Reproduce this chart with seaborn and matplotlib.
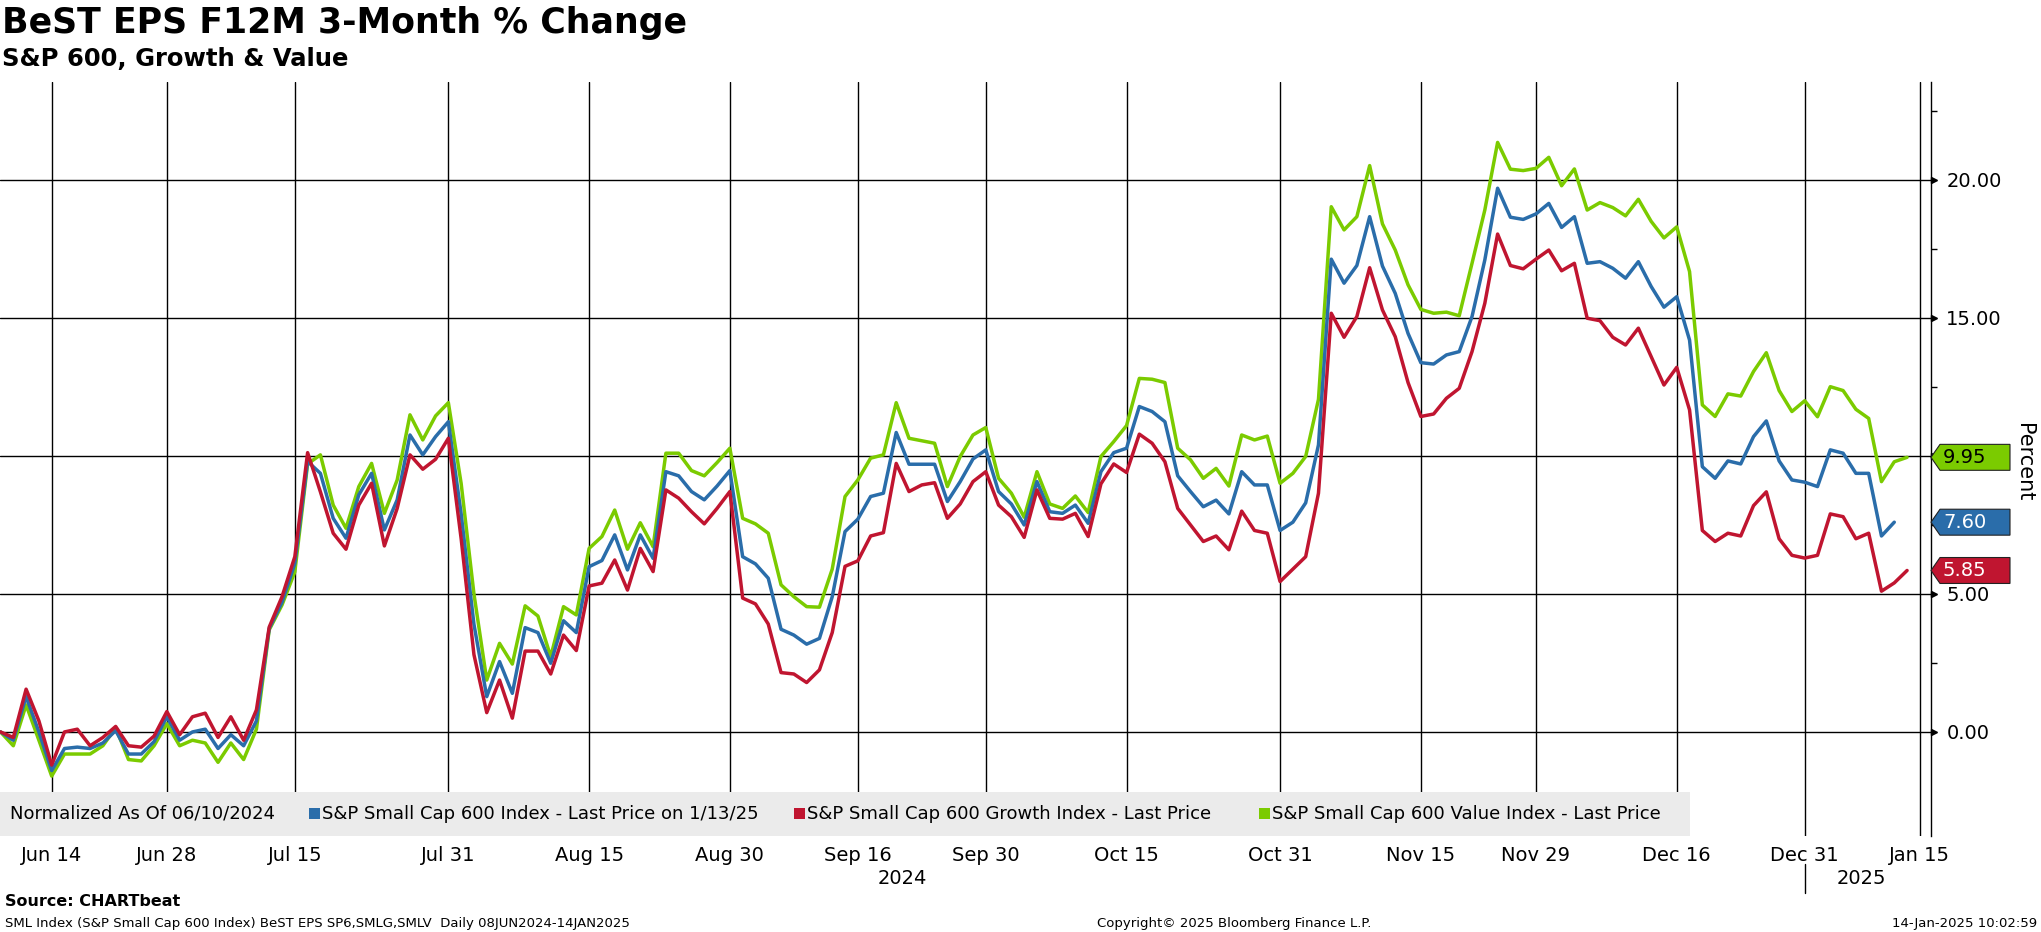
import numpy as np
import pandas as pd
import seaborn as sns
import matplotlib
matplotlib.use("Agg")
import matplotlib.pyplot as plt
from matplotlib import transforms
from matplotlib.patches import Polygon, Rectangle
from matplotlib.lines import Line2D

# trading days (NYSE holidays removed)
holidays = ["2024-06-19", "2024-07-04", "2024-09-02", "2024-11-28",
            "2024-12-25", "2025-01-01", "2025-01-09"]
dates = pd.bdate_range("2024-06-10", "2025-01-14").drop(pd.to_datetime(holidays))

# S&P Small Cap 600 Value (green)
value_idx = [
    0.0, -0.5, 0.98, -0.3, -1.6, -0.8, -0.8, -0.8, -0.5, 0.15,
    -1.0, -1.05, -0.5, 0.3, -0.5, -0.3, -0.4, -1.1, -0.4, -1.0,
    0.1, 3.7, 4.6, 5.8, 9.71, 10.04, 8.22, 7.38, 8.89, 9.73,
    7.92, 9.13, 11.49, 10.58, 11.45, 11.93, 9.0, 5.0, 1.88, 3.21,
    2.46, 4.57, 4.20, 2.73, 4.54, 4.24, 6.65, 7.08, 8.04, 6.62,
    7.58, 6.71, 10.1, 10.1, 9.47, 9.28, 9.76, 10.28, 7.74, 7.54,
    7.2, 5.33, 4.9, 4.54, 4.52, 5.9, 8.53, 9.13, 9.92, 10.04,
    11.93, 10.64, 10.55, 10.46, 8.89, 9.98, 10.76, 11.03, 9.19, 8.65,
    7.78, 9.43, 8.26, 8.1, 8.55, 7.95, 9.98, 10.52, 11.1, 12.81,
    12.78, 12.66, 10.28, 9.86, 9.19, 9.55, 8.91, 10.76, 10.58, 10.72,
    9.01, 9.37, 9.98, 12.05, 19.03, 18.19, 18.67, 20.52, 18.41, 17.46,
    16.20, 15.31, 15.17, 15.21, 15.08, 16.98, 18.91, 21.36, 20.39, 20.34,
    20.42, 20.82, 19.79, 20.40, 18.91, 19.18, 19.0, 18.7, 19.3, 18.5,
    17.9, 18.3, 16.68, 11.85, 11.43, 12.25, 12.17, 13.06, 13.74, 12.37,
    11.61, 12.0, 11.42, 12.51, 12.37, 11.69, 11.36, 9.07, 9.79, 9.95,
]

# S&P Small Cap 600 (blue), last point 1/13/25
sml_idx = [
    0.0, -0.3, 1.28, 0.0, -1.4, -0.6, -0.55, -0.6, -0.4, 0.05,
    -0.8, -0.8, -0.35, 0.55, -0.3, 0.0, 0.1, -0.6, -0.1, -0.5,
    0.4, 3.75, 4.7, 6.1, 9.8, 9.37, 7.74, 7.02, 8.59, 9.37,
    7.32, 8.41, 10.76, 10.04, 10.7, 11.24, 7.9, 3.9, 1.28, 2.55,
    1.40, 3.78, 3.60, 2.49, 4.03, 3.60, 5.99, 6.21, 7.14, 5.87,
    7.14, 6.29, 9.43, 9.28, 8.71, 8.41, 8.91, 9.47, 6.35, 6.09,
    5.57, 3.72, 3.51, 3.18, 3.39, 4.9, 7.26, 7.71, 8.53, 8.65,
    10.85, 9.70, 9.70, 9.70, 8.35, 9.07, 9.89, 10.22, 8.71, 8.26,
    7.5, 9.07, 7.98, 7.92, 8.22, 7.56, 9.43, 10.12, 10.28, 11.79,
    11.61, 11.24, 9.28, 8.71, 8.16, 8.4, 7.9, 9.43, 8.95, 8.95,
    7.3, 7.6, 8.3, 10.40, 17.13, 16.26, 16.90, 18.67, 16.88, 15.89,
    14.44, 13.38, 13.33, 13.66, 13.78, 15.05, 17.10, 19.70, 18.65, 18.57,
    18.77, 19.15, 18.28, 18.67, 16.98, 17.04, 16.80, 16.44, 17.04, 16.14,
    15.39, 15.77, 14.20, 9.61, 9.19, 9.82, 9.71, 10.70, 11.27, 9.82,
    9.13, 9.05, 8.89, 10.22, 10.1, 9.37, 9.37, 7.1, 7.6,
]

# S&P Small Cap 600 Growth (red)
growth_idx = [
    0.0, -0.2, 1.55, 0.4, -1.2, 0.0, 0.1, -0.5, -0.2, 0.2,
    -0.5, -0.55, -0.15, 0.74, -0.1, 0.55, 0.68, -0.2, 0.55, -0.3,
    0.8, 3.8, 4.9, 6.35, 10.12, 8.7, 7.2, 6.62, 8.22, 9.01,
    6.74, 8.1, 10.04, 9.52, 9.88, 10.64, 7.0, 2.8, 0.70, 1.88,
    0.50, 2.93, 2.93, 2.10, 3.51, 2.95, 5.29, 5.39, 6.23, 5.14,
    6.65, 5.81, 8.77, 8.47, 7.98, 7.54, 8.10, 8.71, 4.85, 4.64,
    3.91, 2.15, 2.10, 1.79, 2.25, 3.60, 6.0, 6.2, 7.10, 7.22,
    9.73, 8.71, 8.95, 9.03, 7.74, 8.26, 9.07, 9.43, 8.22, 7.80,
    7.05, 8.77, 7.74, 7.71, 7.92, 7.08, 8.99, 9.71, 9.40, 10.79,
    10.46, 9.79, 8.10, 7.5, 6.9, 7.1, 6.6, 8.0, 7.3, 7.2,
    5.45, 5.9, 6.35, 8.65, 15.17, 14.30, 15.05, 16.82, 15.29, 14.32,
    12.66, 11.43, 11.52, 12.09, 12.45, 13.78, 15.53, 18.04, 16.90, 16.78,
    17.13, 17.46, 16.71, 16.98, 14.99, 14.90, 14.30, 14.02, 14.63, 13.60,
    12.57, 13.21, 11.67, 7.3, 6.9, 7.2, 7.1, 8.2, 8.7, 7.0,
    6.4, 6.3, 6.4, 7.9, 7.8, 7.0, 7.2, 5.1, 5.4, 5.85,
]

tick_dates = ["2024-06-14", "2024-06-28", "2024-07-15", "2024-07-31", "2024-08-15",
              "2024-08-30", "2024-09-16", "2024-09-30", "2024-10-15", "2024-10-31",
              "2024-11-15", "2024-11-29", "2024-12-16", "2024-12-31", "2025-01-15"]
tick_labels = ["Jun 14", "Jun 28", "Jul 15", "Jul 31", "Aug 15", "Aug 30", "Sep 16",
               "Sep 30", "Oct 15", "Oct 31", "Nov 15", "Nov 29", "Dec 16", "Dec 31", "Jan 15"]
y_ticks = [0, 5, 10, 15, 20]
y_ticklabels = ["0.00", "5.00", "", "15.00", "20.00"]

names = ["S&P Small Cap 600 Index - Last Price on 1/13/25",
         "S&P Small Cap 600 Growth Index - Last Price",
         "S&P Small Cap 600 Value Index - Last Price"]
colors = {names[0]: "#2A6DAA", names[1]: "#C01530", names[2]: "#7BCB00"}

W, H = 2041, 932


def fx(px):
    return px / W


def fy(py):
    return 1 - py / H


sns.set_style("white")
plt.rcParams["font.family"] = ["DejaVu Sans"]
plt.rcParams["text.color"] = "black"
plt.rcParams["xtick.color"] = "black"
plt.rcParams["ytick.color"] = "black"
plt.rcParams["axes.labelcolor"] = "black"

fig = plt.figure(figsize=(W / 100, H / 100), dpi=100)
ax_top, ax_bot, ax_right = 81.7, 836.0, 1931.0
ax = fig.add_axes([0, fy(ax_bot), fx(ax_right), (ax_bot - ax_top) / H])

frames = []
for name, vals in [(names[2], value_idx), (names[0], sml_idx), (names[1], growth_idx)]:
    frames.append(pd.DataFrame({"day": np.arange(len(vals)), "value": vals, "series": name}))
df = pd.concat(frames, ignore_index=True)

sns.lineplot(data=df, x="day", y="value", hue="series",
             hue_order=[names[2], names[0], names[1]], palette=colors,
             estimator=None, linewidth=2.5, legend=False, ax=ax, zorder=3)

tick_pos = [int(dates.searchsorted(pd.Timestamp(d))) for d in tick_dates]
for p in tick_pos:
    ax.axvline(p, color="black", lw=1.0, zorder=1)
for v in y_ticks:
    ax.axhline(v, color="black", lw=1.0, zorder=1)

ax.set_xlim(-0.04, 150.87)
ax.set_ylim(-3.77, 23.56)
ax.set_xlabel("")
ax.set_ylabel("")
for s in ["top", "left", "bottom"]:
    ax.spines[s].set_visible(False)
ax.spines["right"].set_color("black")
ax.spines["right"].set_linewidth(1.0)

ax.set_xticks(tick_pos)
ax.set_xticklabels(tick_labels, fontsize=14, color="black")
ax.tick_params(axis="x", length=0, pad=7)

ax.yaxis.tick_right()
ax.set_yticks(y_ticks)
ax.set_yticklabels(y_ticklabels, fontsize=14, color="black")
ax.set_yticks([2.5, 7.5, 12.5, 17.5, 22.5], minor=True)
ax.tick_params(axis="y", which="major", length=0, pad=11)
ax.tick_params(axis="y", which="minor", length=4, width=1, color="black", direction="out")

blend = transforms.blended_transform_factory(ax.transAxes, ax.transData)
ax.plot([1 + 3 / ax_right] * len(y_ticks), y_ticks, ls="none", marker=">", ms=4.5,
        color="black", transform=blend, clip_on=False)

# gray legend strip inside the plot
ax.add_patch(Rectangle((0, 0), 1690 / ax_right, (ax_bot - 791.5) / (ax_bot - ax_top),
                       transform=ax.transAxes, facecolor="#EBEBEB", edgecolor="none", zorder=4))
ly = 813.6
fig.text(fx(10), fy(ly), "Normalized As Of 06/10/2024", fontsize=13, va="center", ha="left")
for sq_x, name in [(309, names[0]), (794, names[1]), (1259, names[2])]:
    fig.add_artist(Rectangle((fx(sq_x), fy(ly + 5.5)), fx(11), 11 / H,
                             transform=fig.transFigure, facecolor=colors[name], edgecolor="none"))
    fig.text(fx(sq_x + 13), fy(ly), name, fontsize=13, va="center", ha="left")

# last value tags
for vals, name, tcol in [(value_idx, names[2], "black"), (sml_idx, names[0], "white"),
                         (growth_idx, names[1], "white")]:
    v = vals[-1]
    h = 0.47
    xs = [1.0, 1 + 9 / ax_right, 1 + 79 / ax_right, 1 + 79 / ax_right, 1 + 9 / ax_right]
    ys = [v, v + h, v + h, v - h, v - h]
    ax.add_patch(Polygon(list(zip(xs, ys)), closed=True, facecolor=colors[name],
                         edgecolor="#222222", lw=0.8, transform=blend, clip_on=False, zorder=6))
    ax.text(1 + 12 / ax_right, v, f"{v:.2f}", transform=blend, fontsize=14, color=tcol,
            va="center", ha="left", zorder=7, clip_on=False)

fig.text(fx(2024), fy(462), "Percent", rotation=270, fontsize=15, ha="center", va="center")

# year labels and separator
fig.text(fx(902), fy(879), "2024", fontsize=14, ha="center", va="center")
fig.text(fx(1861), fy(879), "2025", fontsize=14, ha="center", va="center")
sep_x = fx(ax.transData.transform((tick_pos[13], 0))[0] * 100 / fig.dpi)
fig.add_artist(Line2D([sep_x, sep_x], [fy(864), fy(893)], color="black", lw=1.0,
                      transform=fig.transFigure))

# titles
fig.text(fx(2), fy(23), "BeST EPS F12M 3-Month % Change", fontsize=25, fontweight="bold",
         ha="left", va="center")
fig.text(fx(2), fy(59), "S&P 600, Growth & Value", fontsize=17.5, fontweight="bold",
         ha="left", va="center")

# footer
fig.text(fx(5), fy(901), "Source: CHARTbeat", fontsize=11.5, fontweight="bold",
         ha="left", va="center")
fig.text(fx(5), fy(923), "SML Index (S&P Small Cap 600 Index) BeST EPS SP6,SMLG,SMLV  Daily 08JUN2024-14JAN2025",
         fontsize=9.5, ha="left", va="center")
fig.text(fx(1234), fy(923), "Copyright\u00a9 2025 Bloomberg Finance L.P.", fontsize=9.5,
         ha="center", va="center")
fig.text(fx(2037), fy(923), "14-Jan-2025 10:02:59", fontsize=9.5, ha="right", va="center")

fig.savefig("out.png", dpi=100)
